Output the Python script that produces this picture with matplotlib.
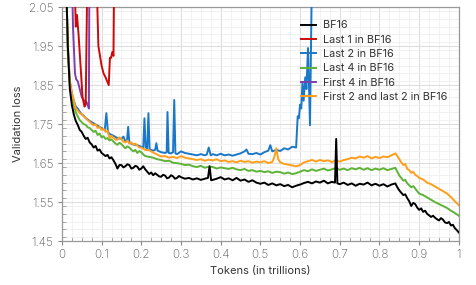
import matplotlib
matplotlib.use("Agg")
import matplotlib.pyplot as plt
from matplotlib.ticker import MultipleLocator, FormatStrFormatter, FuncFormatter

# validation loss curves (tokens in trillions)
black_t = [0.010, 0.015, 0.020, 0.025, 0.030, 0.035, 0.040, 0.045, 0.050, 0.055, 0.060, 0.065, 0.070,
           0.075, 0.080, 0.085, 0.090, 0.095, 0.100, 0.105, 0.110, 0.115, 0.120, 0.125, 0.130, 0.135,
           0.140, 0.145, 0.150, 0.155, 0.160, 0.165, 0.170, 0.175, 0.180, 0.185, 0.190, 0.195, 0.200,
           0.205, 0.210, 0.215, 0.220, 0.225, 0.230, 0.235, 0.240, 0.245, 0.250, 0.255, 0.260, 0.265,
           0.270, 0.275, 0.280, 0.285, 0.290, 0.295, 0.300,
           0.310, 0.320, 0.330, 0.340, 0.350, 0.360, 0.368, 0.372, 0.376, 0.380, 0.390, 0.400, 0.410,
           0.420, 0.430, 0.440, 0.450, 0.460, 0.470, 0.480, 0.490, 0.500, 0.510, 0.520, 0.530, 0.540,
           0.550, 0.560, 0.570, 0.580, 0.590, 0.600, 0.610, 0.620, 0.630, 0.640, 0.650, 0.660, 0.670,
           0.680, 0.688, 0.691, 0.694, 0.700, 0.710, 0.720, 0.730, 0.740, 0.750, 0.760, 0.770, 0.780,
           0.790, 0.800, 0.810, 0.820, 0.830, 0.840, 0.845, 0.850, 0.855, 0.860, 0.865, 0.870, 0.875,
           0.880, 0.885, 0.890, 0.895, 0.900, 0.905, 0.910, 0.915, 0.920, 0.925, 0.930, 0.935, 0.940,
           0.945, 0.950, 0.955, 0.960, 0.965, 0.970, 0.975, 0.980, 0.985, 0.990, 0.995, 1.000]
black_v = [2.15, 1.95, 1.84, 1.80, 1.775, 1.758, 1.748, 1.735, 1.73, 1.72, 1.712, 1.715, 1.703,
           1.698, 1.69, 1.694, 1.682, 1.685, 1.676, 1.672, 1.668, 1.671, 1.662, 1.665, 1.657, 1.648,
           1.636, 1.645, 1.645, 1.639, 1.642, 1.647, 1.645, 1.636, 1.638, 1.643, 1.641, 1.633, 1.636,
           1.642, 1.634, 1.628, 1.622, 1.626, 1.619, 1.624, 1.62, 1.616, 1.615, 1.62, 1.618, 1.611,
           1.613, 1.619, 1.616, 1.61, 1.612, 1.617, 1.614,
           1.61, 1.612, 1.608, 1.611, 1.607, 1.61, 1.612, 1.642, 1.606, 1.607, 1.61, 1.614, 1.608,
           1.611, 1.606, 1.612, 1.605, 1.608, 1.602, 1.606, 1.60, 1.597, 1.60, 1.594, 1.598, 1.593,
           1.596, 1.591, 1.594, 1.588, 1.592, 1.595, 1.599, 1.602, 1.598, 1.603, 1.60, 1.605, 1.598,
           1.602, 1.60, 1.712, 1.598, 1.596, 1.60, 1.594, 1.598, 1.592, 1.597, 1.595, 1.60, 1.593,
           1.597, 1.592, 1.596, 1.59, 1.595, 1.598, 1.588, 1.58, 1.574, 1.568, 1.57, 1.56, 1.552,
           1.54, 1.548, 1.545, 1.536, 1.53, 1.534, 1.525, 1.528, 1.52, 1.516, 1.512, 1.515, 1.51,
           1.506, 1.503, 1.509, 1.505, 1.498, 1.496, 1.499, 1.49, 1.492, 1.483, 1.478, 1.472]

red_t = [0.030, 0.035, 0.038, 0.042, 0.047, 0.052, 0.057, 0.060, 0.065, 0.075, 0.088, 0.092,
         0.100, 0.105, 0.110, 0.118, 0.121, 0.124, 0.127, 0.130, 0.133]
red_v = [2.2, 2.0, 2.03, 1.98, 1.90, 1.82, 1.795, 1.80, 2.2, 2.3, 2.1, 1.95,
         1.90, 1.88, 1.87, 1.85, 1.92, 1.92, 1.935, 1.925, 2.3]

blue_t = [0.010, 0.015, 0.020, 0.025, 0.030, 0.035, 0.040, 0.045, 0.050, 0.055, 0.060, 0.065,
          0.070, 0.080, 0.090, 0.100, 0.108, 0.112, 0.116, 0.120, 0.130, 0.140, 0.150, 0.155,
          0.160, 0.164, 0.167, 0.170, 0.180, 0.190, 0.200, 0.205, 0.208, 0.211, 0.215, 0.218,
          0.221, 0.230, 0.235, 0.238, 0.241, 0.250, 0.260, 0.264, 0.266, 0.269, 0.275, 0.280,
          0.283, 0.286, 0.290, 0.300, 0.310, 0.320, 0.330, 0.340, 0.350, 0.360, 0.365, 0.370,
          0.375, 0.380, 0.390, 0.400, 0.410, 0.420, 0.430, 0.440, 0.450, 0.460, 0.465, 0.470,
          0.480, 0.490, 0.500, 0.510, 0.520, 0.525, 0.530, 0.540, 0.550, 0.560, 0.570, 0.580,
          0.590, 0.594, 0.597, 0.600, 0.603, 0.606, 0.609, 0.613, 0.616, 0.620, 0.625, 0.632]
blue_v = [2.15, 1.95, 1.86, 1.83, 1.81, 1.795, 1.79, 1.782, 1.775, 1.772, 1.765, 1.762,
          1.758, 1.752, 1.746, 1.74, 1.735, 1.778, 1.73, 1.725, 1.72, 1.714, 1.712, 1.718,
          1.706, 1.708, 1.743, 1.702, 1.698, 1.696, 1.692, 1.69, 1.765, 1.69, 1.688, 1.778,
          1.685, 1.682, 1.684, 1.701, 1.682, 1.678, 1.676, 1.678, 1.781, 1.676, 1.675, 1.678,
          1.812, 1.675, 1.673, 1.68, 1.676, 1.674, 1.672, 1.67, 1.673, 1.67, 1.672, 1.69,
          1.67, 1.673, 1.67, 1.674, 1.67, 1.672, 1.669, 1.672, 1.675, 1.68, 1.685, 1.674,
          1.673, 1.676, 1.672, 1.678, 1.682, 1.696, 1.68, 1.684, 1.681, 1.688, 1.685, 1.692,
          1.69, 1.77, 1.765, 1.80, 1.79, 1.855, 1.81, 1.87, 1.84, 1.945, 1.747, 2.3]

green_t = [0.010, 0.015, 0.020, 0.025, 0.030, 0.035, 0.040, 0.045, 0.050, 0.055, 0.060, 0.065,
           0.070, 0.075, 0.080, 0.085, 0.090, 0.095, 0.100, 0.105, 0.110, 0.115, 0.120, 0.125,
           0.130, 0.135, 0.140, 0.145, 0.150, 0.155, 0.160, 0.165, 0.170, 0.175, 0.180, 0.185,
           0.190, 0.195, 0.200, 0.205, 0.210, 0.220, 0.230, 0.240, 0.250, 0.260, 0.270, 0.280,
           0.290, 0.300, 0.310, 0.320, 0.330, 0.340, 0.350, 0.360, 0.370, 0.380, 0.390, 0.400,
           0.410, 0.420, 0.430, 0.440, 0.450, 0.460, 0.470, 0.480, 0.490, 0.500, 0.510, 0.520,
           0.530, 0.540, 0.550, 0.560, 0.570, 0.580, 0.590, 0.600, 0.610, 0.620, 0.630, 0.640,
           0.650, 0.660, 0.670, 0.680, 0.690, 0.700, 0.710, 0.720, 0.730, 0.740, 0.750, 0.760,
           0.770, 0.780, 0.790, 0.800, 0.810, 0.820, 0.830, 0.840, 0.845, 0.850, 0.855, 0.860,
           0.865, 0.870, 0.875, 0.880, 0.885, 0.890, 0.895, 0.900, 0.910, 0.920, 0.930, 0.940,
           0.950, 0.960, 0.970, 0.980, 0.990, 1.000]
green_v = [2.15, 1.93, 1.85, 1.82, 1.80, 1.78, 1.77, 1.76, 1.755, 1.75, 1.748, 1.742,
           1.74, 1.735, 1.73, 1.733, 1.722, 1.726, 1.716, 1.719, 1.712, 1.714, 1.708, 1.711,
           1.705, 1.70, 1.697, 1.702, 1.699, 1.693, 1.688, 1.693, 1.69, 1.684, 1.68, 1.684,
           1.676, 1.681, 1.678, 1.672, 1.668, 1.666, 1.664, 1.66, 1.658, 1.655, 1.656, 1.651,
           1.65, 1.648, 1.645, 1.646, 1.642, 1.64, 1.643, 1.638, 1.641, 1.64, 1.636, 1.639,
           1.637, 1.635, 1.638, 1.634, 1.632, 1.635, 1.63, 1.632, 1.628, 1.63, 1.627, 1.629,
           1.625, 1.628, 1.627, 1.623, 1.626, 1.622, 1.624, 1.628, 1.632, 1.629, 1.634, 1.63,
           1.633, 1.636, 1.631, 1.634, 1.637, 1.633, 1.636, 1.632, 1.637, 1.634, 1.638, 1.633,
           1.637, 1.632, 1.636, 1.633, 1.637, 1.632, 1.635, 1.638, 1.628, 1.618, 1.612, 1.605,
           1.607, 1.598, 1.593, 1.588, 1.591, 1.585, 1.578, 1.572, 1.568, 1.562, 1.556, 1.55,
           1.545, 1.54, 1.535, 1.528, 1.522, 1.515]

purple_t = [0.022, 0.028, 0.033, 0.036, 0.040, 0.045, 0.050, 0.055, 0.060, 0.065, 0.068, 0.070]
purple_v = [2.3, 2.0, 1.88, 1.865, 1.86, 1.84, 1.82, 1.81, 1.81, 1.80, 1.79, 2.3]

orange_t = [0.010, 0.015, 0.020, 0.025, 0.030, 0.035, 0.040, 0.045, 0.050, 0.055, 0.060, 0.065,
            0.070, 0.075, 0.080, 0.085, 0.090, 0.095, 0.100, 0.105, 0.110, 0.115, 0.120, 0.125,
            0.130, 0.135, 0.140, 0.145, 0.150, 0.155, 0.160, 0.165, 0.170, 0.175, 0.180, 0.185,
            0.190, 0.195, 0.200, 0.210, 0.220, 0.230, 0.240, 0.250, 0.260, 0.270, 0.280, 0.290,
            0.300, 0.310, 0.320, 0.330, 0.340, 0.350, 0.360, 0.370, 0.380, 0.390, 0.400, 0.410,
            0.420, 0.430, 0.440, 0.450, 0.460, 0.470, 0.480, 0.490, 0.500, 0.510, 0.520, 0.530,
            0.535, 0.540, 0.545, 0.550, 0.560, 0.570, 0.580, 0.590, 0.600, 0.610, 0.620, 0.630,
            0.640, 0.650, 0.660, 0.670, 0.680, 0.690, 0.700, 0.710, 0.720, 0.730, 0.740, 0.750,
            0.760, 0.770, 0.780, 0.790, 0.800, 0.810, 0.820, 0.830, 0.840, 0.845, 0.850, 0.855,
            0.860, 0.865, 0.870, 0.875, 0.880, 0.885, 0.890, 0.895, 0.900, 0.910, 0.920, 0.930,
            0.940, 0.950, 0.960, 0.970, 0.980, 0.990, 1.000]
orange_v = [2.15, 1.95, 1.86, 1.83, 1.81, 1.79, 1.785, 1.778, 1.776, 1.77, 1.766, 1.76,
            1.756, 1.751, 1.747, 1.75, 1.74, 1.743, 1.735, 1.738, 1.73, 1.733, 1.714, 1.72,
            1.715, 1.71, 1.71, 1.716, 1.711, 1.705, 1.703, 1.708, 1.70, 1.703, 1.697, 1.70,
            1.695, 1.69, 1.69, 1.684, 1.683, 1.677, 1.672, 1.667, 1.668, 1.664, 1.666, 1.663,
            1.668, 1.664, 1.662, 1.66, 1.658, 1.66, 1.656, 1.659, 1.657, 1.66, 1.655, 1.657,
            1.653, 1.655, 1.652, 1.656, 1.653, 1.655, 1.651, 1.654, 1.652, 1.655, 1.65, 1.653,
            1.665, 1.688, 1.66, 1.652, 1.648, 1.646, 1.644, 1.642, 1.645, 1.652, 1.655, 1.658,
            1.654, 1.658, 1.655, 1.657, 1.653, 1.656, 1.654, 1.658, 1.66, 1.664, 1.662, 1.667,
            1.664, 1.668, 1.662, 1.666, 1.663, 1.667, 1.665, 1.67, 1.675, 1.668, 1.66, 1.652,
            1.645, 1.648, 1.635, 1.632, 1.625, 1.628, 1.62, 1.617, 1.612, 1.608, 1.60, 1.596,
            1.59, 1.584, 1.578, 1.572, 1.563, 1.552, 1.542]

labels = ["BF16", "Last 1 in BF16", "Last 2 in BF16", "Last 4 in BF16",
          "First 4 in BF16", "First 2 and last 2 in BF16"]
colors = ["#000000", "#cc0a0a", "#1b78c8", "#5db336", "#7b3fae", "#ff9e1b"]

plt.rcParams['font.family'] = ['Inter', 'DejaVu Sans']

fig = plt.figure(figsize=(4.76, 2.85), dpi=100)
ax = fig.add_axes([0.130, 0.154, 0.834, 0.821])

series = [(black_t, black_v), (red_t, red_v), (blue_t, blue_v), (green_t, green_v),
          (purple_t, purple_v), (orange_t, orange_v)]
# draw order: keep black on top like the reference
order = [4, 1, 2, 3, 5, 0]
lines = {}
for i in order:
    t, v = series[i]
    ln, = ax.plot(t, v, color=colors[i], lw=1.4, label=labels[i], zorder=3 + (i == 0))
    lines[i] = ln

ax.set_xlim(0, 1)
ax.set_ylim(1.45, 2.05)
ax.xaxis.set_major_locator(MultipleLocator(0.1))
ax.xaxis.set_minor_locator(MultipleLocator(0.025))
ax.yaxis.set_minor_locator(MultipleLocator(0.02))
ax.set_yticks([1.45, 1.55, 1.65, 1.75, 1.85, 1.95, 2.05])
ax.yaxis.set_major_formatter(FormatStrFormatter('%.2f'))
ax.xaxis.set_major_formatter(FuncFormatter(lambda x, p: '%g' % round(x, 2)))

ax.grid(which='major', color='#dddddd', lw=0.8)
ax.grid(which='minor', color='#efefef', lw=0.6)
ax.set_axisbelow(True)

for s in ax.spines.values():
    s.set_color('#999999')
    s.set_linewidth(0.9)
ax.tick_params(which='major', direction='out', length=3, width=0.8, color='#888888',
               labelsize=8.5, labelcolor='#555555', pad=3)
ax.tick_params(which='minor', direction='in', length=3, width=0.6, color='#999999')
for lab in ax.get_xticklabels() + ax.get_yticklabels():
    lab.set_fontweight('light')

ax.set_xlabel("Tokens (in trillions)", fontsize=8, color='#333333', labelpad=3)
ax.set_ylabel("Validation loss", fontsize=8, color='#333333', labelpad=4)

handles = [lines[i] for i in range(6)]
leg = ax.legend(handles, labels, loc='upper right', bbox_to_anchor=(0.995, 0.985), frameon=False,
                handlelength=1.4, handletextpad=0.6, labelspacing=0.4,
                labelcolor='#333333', prop={'size': 7.8})

fig.savefig("out.png", dpi=100)
